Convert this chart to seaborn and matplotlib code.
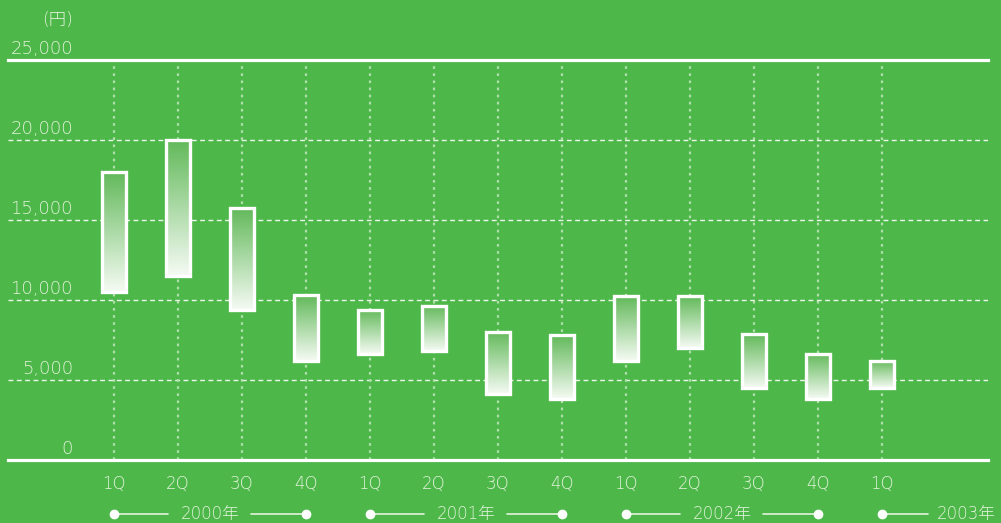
import numpy as np
import pandas as pd
import matplotlib
matplotlib.use('Agg')
import matplotlib.pyplot as plt
import seaborn as sns
from matplotlib.colors import LinearSegmentedColormap
from matplotlib.transforms import blended_transform_factory, offset_copy

quarters = ['1Q', '2Q', '3Q', '4Q', '1Q', '2Q', '3Q', '4Q', '1Q', '2Q', '3Q', '4Q', '1Q']
highs = [18000, 20000, 15750, 10300, 9400, 9650, 8000, 7800, 10250, 10250, 7850, 6650, 6200]
lows = [10500, 11500, 9400, 6200, 6600, 6800, 4100, 3800, 6200, 7000, 4500, 3800, 4500]
years = ['2000年', '2001年', '2002年', '2003年']
y_ticks = [0, 5000, 10000, 15000, 20000, 25000]
y_labels = ['0', '5,000', '10,000', '15,000', '20,000', '25,000']
unit_label = '(円)'

BG = '#4db749'
TXT = '#e4f3dc'
FAM = ['DejaVu Sans', 'Noto Sans CJK JP']

sns.set_theme(style='white')
plt.rcParams['font.family'] = FAM

fig = plt.figure(figsize=(10.01, 5.23), dpi=100, facecolor=BG)
ax = fig.add_axes([8 / 1001, 63 / 523, 980 / 1001, 400 / 523])
ax.set_facecolor(BG)

df = pd.DataFrame({'pos': list(range(len(quarters))),
                   'span': np.array(highs) - np.array(lows),
                   'low': lows})
sns.barplot(data=df, x='pos', y='span', bottom=df['low'].values, width=0.375,
            errorbar=None, color='white', facecolor='none', edgecolor='white',
            linewidth=2.4, zorder=3, ax=ax)

cmap = LinearSegmentedColormap.from_list('g', ['#f6fbf4', '#62b95a'])
grad = np.linspace(0, 1, 256).reshape(-1, 1)
for p in list(ax.patches):
    p.set_facecolor('none')
    bb = p.get_bbox()
    im = ax.imshow(grad, extent=[bb.x0, bb.x1, bb.y0, bb.y1], origin='lower',
                   aspect='auto', cmap=cmap, zorder=2, interpolation='bilinear')
    im.set_clip_path(p)

ax.set_xlim(-106 / 64, -106 / 64 + 980 / 64)
ax.set_ylim(0, 25000)
ax.set_xlabel('')
ax.set_ylabel('')
ax.set_xticks(range(len(quarters)))
ax.set_yticks(y_ticks)
ax.set_xticklabels([])
ax.set_yticklabels([])
ax.tick_params(length=0)

ax.grid(False)
for yv in y_ticks[1:-1]:
    ax.axhline(yv, color='white', lw=1, dashes=(3.5, 2.5), alpha=0.9, zorder=1)
for xv in range(len(quarters)):
    ax.axvline(xv, color='#b0dfab', lw=1.6, dashes=(1.2, 2.0), zorder=1)

for s in ['left', 'right']:
    ax.spines[s].set_visible(False)
for s in ['top', 'bottom']:
    ax.spines[s].set_color('white')
    ax.spines[s].set_linewidth(2.3)
    ax.spines[s].set_zorder(4)

# y labels above gridlines
ytr = blended_transform_factory(fig.transFigure, ax.transData)
ytr = offset_copy(ytr, fig=fig, x=0, y=4.5, units='points')
for yv, lab in zip(y_ticks, y_labels):
    ax.text(73 / 1001, yv, lab, transform=ytr, ha='right', va='baseline',
            color=TXT, fontsize=13, fontweight='light', clip_on=False)
fig.text(73 / 1001, 1 - 20 / 523, unit_label, ha='right', va='center',
         color=TXT, fontsize=12.5, fontweight='light')

# quarter labels
xtr = blended_transform_factory(ax.transData, fig.transFigure)
for i, q in enumerate(quarters):
    ax.text(i, 1 - 484 / 523, q, transform=xtr, ha='center', va='center',
            color=TXT, fontsize=12, fontweight='light', clip_on=False)

# year labels with dot-line markers
yy = 1 - 514 / 523
for k, yr in enumerate(years):
    s = 4 * k
    if s + 3 < len(quarters):
        ax.plot([s, s + 0.84], [yy, yy], transform=xtr, color=TXT, lw=1.2, clip_on=False)
        ax.plot([s + 2.14, s + 3], [yy, yy], transform=xtr, color=TXT, lw=1.2, clip_on=False)
        ax.plot([s, s + 3], [yy, yy], transform=xtr, ls='none', marker='o', ms=6,
                color='white', clip_on=False)
        ax.text(s + 1.5, yy, yr, transform=xtr, ha='center', va='center',
                color=TXT, fontsize=12, fontweight='light', clip_on=False)
    else:
        ax.plot([s, s + 0.72], [yy, yy], transform=xtr, color=TXT, lw=1.2, clip_on=False)
        ax.plot([s], [yy], transform=xtr, ls='none', marker='o', ms=6,
                color='white', clip_on=False)
        ax.text(s + 0.86, yy, yr, transform=xtr, ha='left', va='center',
                color=TXT, fontsize=12, fontweight='light', clip_on=False)

fig.savefig('out.png', dpi=100, facecolor=BG)
